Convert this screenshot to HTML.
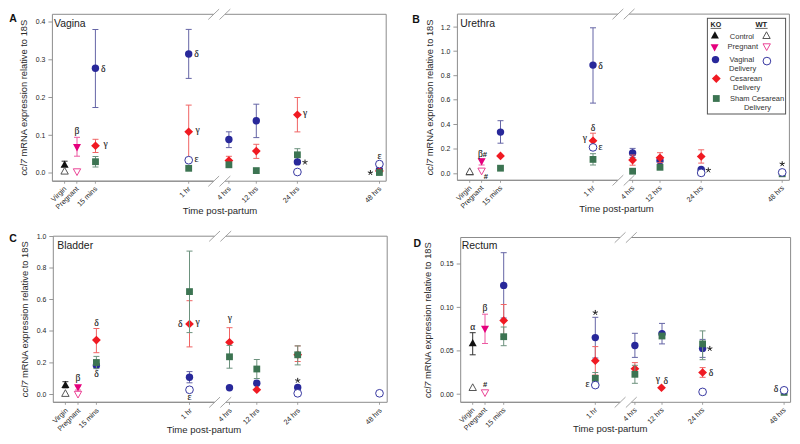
<!DOCTYPE html><html><head><meta charset="utf-8"><style>html,body{margin:0;padding:0;background:#fff;width:800px;height:444px;overflow:hidden}svg{display:block}</style></head><body>
<svg width="800" height="444" viewBox="0 0 800 444" font-family="Liberation Sans, sans-serif">
<rect width="800" height="444" fill="#fff"/>
<path d="M52.4 14.3H213.7M224.9 14.3H386.2V181.2H224.9M213.7 181.2H52.4Z" stroke="#8c8c8c" stroke-width="1" fill="none"/>
<path d="M52.4 14.3V181.2" stroke="#8c8c8c" stroke-width="1"/>
<path d="M208.3 19.5L219.1 9.1" stroke="#9a9a9a" stroke-width="0.9"/>
<path d="M219.5 19.5L230.3 9.1" stroke="#9a9a9a" stroke-width="0.9"/>
<path d="M208.3 186.4L219.1 176" stroke="#9a9a9a" stroke-width="0.9"/>
<path d="M219.5 186.4L230.3 176" stroke="#9a9a9a" stroke-width="0.9"/>
<path d="M48.4 22H52.4" stroke="#8c8c8c" stroke-width="0.9"/>
<text x="45.4" y="24.45" font-size="6.9" fill="#262626" text-anchor="end">0.4</text>
<path d="M48.4 59.8H52.4" stroke="#8c8c8c" stroke-width="0.9"/>
<text x="45.4" y="62.25" font-size="6.9" fill="#262626" text-anchor="end">0.3</text>
<path d="M48.4 97.5H52.4" stroke="#8c8c8c" stroke-width="0.9"/>
<text x="45.4" y="99.95" font-size="6.9" fill="#262626" text-anchor="end">0.2</text>
<path d="M48.4 135.3H52.4" stroke="#8c8c8c" stroke-width="0.9"/>
<text x="45.4" y="137.75" font-size="6.9" fill="#262626" text-anchor="end">0.1</text>
<path d="M48.4 173H52.4" stroke="#8c8c8c" stroke-width="0.9"/>
<text x="45.4" y="175.45" font-size="6.9" fill="#262626" text-anchor="end">0.0</text>
<path d="M64.6 181.2V183.7" stroke="#8c8c8c" stroke-width="0.8"/>
<text x="66.9" y="189.3" font-size="7.15" fill="#262626" text-anchor="end" transform="rotate(-45 66.9 189.3)">Virgin</text>
<path d="M76.8 181.2V183.7" stroke="#8c8c8c" stroke-width="0.8"/>
<text x="79.1" y="189.3" font-size="7.15" fill="#262626" text-anchor="end" transform="rotate(-45 79.1 189.3)">Pregnant</text>
<path d="M95.4 181.2V183.7" stroke="#8c8c8c" stroke-width="0.8"/>
<text x="97.7" y="189.3" font-size="7.15" fill="#262626" text-anchor="end" transform="rotate(-45 97.7 189.3)">15 mins</text>
<path d="M188.7 181.2V183.7" stroke="#8c8c8c" stroke-width="0.8"/>
<text x="191" y="189.3" font-size="7.15" fill="#262626" text-anchor="end" transform="rotate(-45 191 189.3)">1 hr</text>
<path d="M228.9 181.2V183.7" stroke="#8c8c8c" stroke-width="0.8"/>
<text x="231.2" y="189.3" font-size="7.15" fill="#262626" text-anchor="end" transform="rotate(-45 231.2 189.3)">4 hrs</text>
<path d="M256.3 181.2V183.7" stroke="#8c8c8c" stroke-width="0.8"/>
<text x="258.6" y="189.3" font-size="7.15" fill="#262626" text-anchor="end" transform="rotate(-45 258.6 189.3)">12 hrs</text>
<path d="M297.4 181.2V183.7" stroke="#8c8c8c" stroke-width="0.8"/>
<text x="299.7" y="189.3" font-size="7.15" fill="#262626" text-anchor="end" transform="rotate(-45 299.7 189.3)">24 hrs</text>
<path d="M379.5 181.2V183.7" stroke="#8c8c8c" stroke-width="0.8"/>
<text x="381.8" y="189.3" font-size="7.15" fill="#262626" text-anchor="end" transform="rotate(-45 381.8 189.3)">48 hrs</text>
<text x="9.3" y="21.9" font-size="10.5" font-weight="bold" fill="#111">A</text>
<text x="54" y="27.3" font-size="10.4" fill="#222">Vagina</text>
<text x="27.3" y="97.7" font-size="9.32" fill="#2a2a2a" text-anchor="middle" transform="rotate(-90 27.3 97.7)"><tspan font-style="italic">ccl7</tspan> mRNA expression relative to 18S</text>
<text x="220" y="213.8" font-size="9.55" fill="#2a2a2a" text-anchor="middle">Time post-partum</text>
<path d="M64.6 161.2V166.5M61.6 161.2H67.6M61.6 166.5H67.6" stroke="#333333" stroke-width="1" fill="none"/>
<path d="M64.6 160.4L68.6 167.7L60.6 167.7Z" fill="#111111"/>
<path d="M77 137.3V156.2M74 137.3H80M74 156.2H80" stroke="#ec5aa2" stroke-width="1" fill="none"/>
<path d="M73 144.1L81 144.1L77 151.4Z" fill="#e5007d"/>
<text x="77" y="134.1" font-family="Liberation Serif, serif" font-size="9.6" fill="#222" stroke="#222" stroke-width="0.12" text-anchor="middle">β</text>
<path d="M95.4 29.5V107.5M92.4 29.5H98.4M92.4 107.5H98.4" stroke="#6565a6" stroke-width="1" fill="none"/>
<circle cx="95.4" cy="68.2" r="3.7" fill="#28289a"/>
<text x="103.2" y="71.9" font-family="Liberation Serif, serif" font-size="9.6" fill="#222" stroke="#222" stroke-width="0.12" text-anchor="middle">δ</text>
<path d="M95.5 139.3V152.5M92.5 139.3H98.5M92.5 152.5H98.5" stroke="#f06464" stroke-width="1" fill="none"/>
<path d="M95.5 141.5L99.9 145.8L95.5 150.1L91.1 145.8Z" fill="#f01a22"/>
<text x="105.5" y="147.4" font-family="Liberation Serif, serif" font-size="9.6" fill="#222" stroke="#222" stroke-width="0.12" text-anchor="middle">γ</text>
<path d="M95.5 156.5V167M92.5 156.5H98.5M92.5 167H98.5" stroke="#6d927e" stroke-width="1" fill="none"/>
<rect x="92.1" y="158.3" width="6.8" height="6.8" fill="#3c7452"/>
<path d="M188.7 29.4V78.4M185.7 29.4H191.7M185.7 78.4H191.7" stroke="#6565a6" stroke-width="1" fill="none"/>
<circle cx="188.7" cy="54" r="3.7" fill="#28289a"/>
<text x="196.5" y="57.4" font-family="Liberation Serif, serif" font-size="9.6" fill="#222" stroke="#222" stroke-width="0.12" text-anchor="middle">δ</text>
<path d="M188.7 105.1V158.5M185.7 105.1H191.7M185.7 158.5H191.7" stroke="#f06464" stroke-width="1" fill="none"/>
<path d="M188.7 127.5L193.1 131.8L188.7 136.1L184.3 131.8Z" fill="#f01a22"/>
<text x="197.5" y="133.4" font-family="Liberation Serif, serif" font-size="9.6" fill="#222" stroke="#222" stroke-width="0.12" text-anchor="middle">γ</text>
<rect x="185.3" y="164.9" width="6.8" height="6.8" fill="#3c7452"/>
<path d="M228.9 131.8V147.6M225.9 131.8H231.9M225.9 147.6H231.9" stroke="#6565a6" stroke-width="1" fill="none"/>
<circle cx="228.9" cy="139.5" r="3.7" fill="#28289a"/>
<path d="M228.9 156.3V164.7M225.9 156.3H231.9M225.9 164.7H231.9" stroke="#f06464" stroke-width="1" fill="none"/>
<path d="M228.9 156.2L233.3 160.5L228.9 164.8L224.5 160.5Z" fill="#f01a22"/>
<rect x="225.5" y="161.4" width="6.8" height="6.8" fill="#3c7452"/>
<path d="M256.3 104.2V137.6M253.3 104.2H259.3M253.3 137.6H259.3" stroke="#6565a6" stroke-width="1" fill="none"/>
<circle cx="256.3" cy="120.8" r="3.7" fill="#28289a"/>
<path d="M256.3 144.3V158.4M253.3 144.3H259.3M253.3 158.4H259.3" stroke="#f06464" stroke-width="1" fill="none"/>
<path d="M256.3 146.8L260.7 151.1L256.3 155.4L251.9 151.1Z" fill="#f01a22"/>
<rect x="252.9" y="167.2" width="6.8" height="6.8" fill="#3c7452"/>
<path d="M297.4 97.5V131.9M294.4 97.5H300.4M294.4 131.9H300.4" stroke="#f06464" stroke-width="1" fill="none"/>
<path d="M297.4 110.4L301.8 114.7L297.4 119L293 114.7Z" fill="#f01a22"/>
<text x="305" y="116.4" font-family="Liberation Serif, serif" font-size="9.6" fill="#222" stroke="#222" stroke-width="0.12" text-anchor="middle">γ</text>
<path d="M297.4 148.7V161M294.4 148.7H300.4M294.4 161H300.4" stroke="#6d927e" stroke-width="1" fill="none"/>
<rect x="294" y="151.4" width="6.8" height="6.8" fill="#3c7452"/>
<circle cx="297.4" cy="161.9" r="3.7" fill="#28289a"/>
<path d="M305 162.25L305 159.55M305 162.25L307.57 161.42M305 162.25L306.59 164.43M305 162.25L303.41 164.43M305 162.25L302.43 161.42" stroke="#1e1e1e" stroke-width="1.0" fill="none"/>
<circle cx="379.4" cy="170" r="3.7" fill="#28289a"/>
<path d="M379.4 166.7L383.8 171L379.4 175.3L375 171Z" fill="#f01a22"/>
<rect x="376" y="169.1" width="6.8" height="6.8" fill="#3c7452"/>
<path d="M370.4 172.75L370.4 170.05M370.4 172.75L372.97 171.92M370.4 172.75L371.99 174.93M370.4 172.75L368.81 174.93M370.4 172.75L367.83 171.92" stroke="#1e1e1e" stroke-width="1.0" fill="none"/>
<path d="M64.6 167.4L68.3 174.1L60.9 174.1Z" fill="#fff" stroke="#444444" stroke-width="0.9"/>
<path d="M73.3 168.8L80.7 168.8L77 175.5Z" fill="#fff" stroke="#e8308a" stroke-width="0.9"/>
<circle cx="188.7" cy="160.2" r="3.85" fill="#fff" stroke="#2e2e9c" stroke-width="0.95"/>
<text x="196.5" y="162.3" font-family="Liberation Serif, serif" font-size="9.6" fill="#222" stroke="#222" stroke-width="0.12" text-anchor="middle">ε</text>
<circle cx="297.4" cy="172" r="3.85" fill="#fff" stroke="#2e2e9c" stroke-width="0.95"/>
<circle cx="379.4" cy="164.1" r="3.85" fill="#fff" stroke="#2e2e9c" stroke-width="0.95"/>
<text x="379.4" y="158.6" font-family="Liberation Serif, serif" font-size="9.6" fill="#222" stroke="#222" stroke-width="0.12" text-anchor="middle">ε</text>
<path d="M457.4 14.1H617.9M629.1 14.1H789.4V180.3H629.1M617.9 180.3H457.4Z" stroke="#8c8c8c" stroke-width="1" fill="none"/>
<path d="M457.4 14.1V180.3" stroke="#8c8c8c" stroke-width="1"/>
<path d="M612.5 19.3L623.3 8.9" stroke="#9a9a9a" stroke-width="0.9"/>
<path d="M623.7 19.3L634.5 8.9" stroke="#9a9a9a" stroke-width="0.9"/>
<path d="M612.5 185.5L623.3 175.1" stroke="#9a9a9a" stroke-width="0.9"/>
<path d="M623.7 185.5L634.5 175.1" stroke="#9a9a9a" stroke-width="0.9"/>
<path d="M453.4 27.1H457.4" stroke="#8c8c8c" stroke-width="0.9"/>
<text x="450.4" y="29.55" font-size="6.9" fill="#262626" text-anchor="end">1.2</text>
<path d="M453.4 51.2H457.4" stroke="#8c8c8c" stroke-width="0.9"/>
<text x="450.4" y="53.65" font-size="6.9" fill="#262626" text-anchor="end">1.0</text>
<path d="M453.4 75.7H457.4" stroke="#8c8c8c" stroke-width="0.9"/>
<text x="450.4" y="78.15" font-size="6.9" fill="#262626" text-anchor="end">0.8</text>
<path d="M453.4 99.8H457.4" stroke="#8c8c8c" stroke-width="0.9"/>
<text x="450.4" y="102.25" font-size="6.9" fill="#262626" text-anchor="end">0.6</text>
<path d="M453.4 124.5H457.4" stroke="#8c8c8c" stroke-width="0.9"/>
<text x="450.4" y="126.95" font-size="6.9" fill="#262626" text-anchor="end">0.4</text>
<path d="M453.4 149H457.4" stroke="#8c8c8c" stroke-width="0.9"/>
<text x="450.4" y="151.45" font-size="6.9" fill="#262626" text-anchor="end">0.2</text>
<path d="M453.4 173.8H457.4" stroke="#8c8c8c" stroke-width="0.9"/>
<text x="450.4" y="176.25" font-size="6.9" fill="#262626" text-anchor="end">0.0</text>
<path d="M469.7 180.3V182.8" stroke="#8c8c8c" stroke-width="0.8"/>
<text x="472" y="188.4" font-size="7.15" fill="#262626" text-anchor="end" transform="rotate(-45 472 188.4)">Virgin</text>
<path d="M481.6 180.3V182.8" stroke="#8c8c8c" stroke-width="0.8"/>
<text x="483.9" y="188.4" font-size="7.15" fill="#262626" text-anchor="end" transform="rotate(-45 483.9 188.4)">Pregnant</text>
<path d="M500.5 180.3V182.8" stroke="#8c8c8c" stroke-width="0.8"/>
<text x="502.8" y="188.4" font-size="7.15" fill="#262626" text-anchor="end" transform="rotate(-45 502.8 188.4)">15 mins</text>
<path d="M593 180.3V182.8" stroke="#8c8c8c" stroke-width="0.8"/>
<text x="595.3" y="188.4" font-size="7.15" fill="#262626" text-anchor="end" transform="rotate(-45 595.3 188.4)">1 hr</text>
<path d="M632.6 180.3V182.8" stroke="#8c8c8c" stroke-width="0.8"/>
<text x="634.9" y="188.4" font-size="7.15" fill="#262626" text-anchor="end" transform="rotate(-45 634.9 188.4)">4 hrs</text>
<path d="M660 180.3V182.8" stroke="#8c8c8c" stroke-width="0.8"/>
<text x="662.3" y="188.4" font-size="7.15" fill="#262626" text-anchor="end" transform="rotate(-45 662.3 188.4)">12 hrs</text>
<path d="M701.2 180.3V182.8" stroke="#8c8c8c" stroke-width="0.8"/>
<text x="703.5" y="188.4" font-size="7.15" fill="#262626" text-anchor="end" transform="rotate(-45 703.5 188.4)">24 hrs</text>
<path d="M782.2 180.3V182.8" stroke="#8c8c8c" stroke-width="0.8"/>
<text x="784.5" y="188.4" font-size="7.15" fill="#262626" text-anchor="end" transform="rotate(-45 784.5 188.4)">48 hrs</text>
<text x="412.3" y="23.1" font-size="10.5" font-weight="bold" fill="#111">B</text>
<text x="460.3" y="27.1" font-size="10.4" fill="#222">Urethra</text>
<text x="432.8" y="97.4" font-size="9.32" fill="#2a2a2a" text-anchor="middle" transform="rotate(-90 432.8 97.4)"><tspan font-style="italic">ccl7</tspan> mRNA expression relative to 18S</text>
<text x="616.6" y="212.2" font-size="9.55" fill="#2a2a2a" text-anchor="middle">Time post-partum</text>
<path d="M469.7 168L473.7 175.3L465.7 175.3Z" fill="#111111"/>
<path d="M481.6 159V165M478.6 159H484.6M478.6 165H484.6" stroke="#ec5aa2" stroke-width="1" fill="none"/>
<path d="M477.6 158.3L485.6 158.3L481.6 165.6Z" fill="#e5007d"/>
<text x="482.5" y="156.5" font-family="Liberation Serif, serif" font-size="9.6" fill="#222" stroke="#222" stroke-width="0.12" text-anchor="middle">β<tspan font-family="Liberation Sans, sans-serif" font-size="7.6" font-weight="bold" stroke-width="0">#</tspan></text>
<path d="M500.5 120.7V143.2M497.5 120.7H503.5M497.5 143.2H503.5" stroke="#6565a6" stroke-width="1" fill="none"/>
<circle cx="500.5" cy="132.1" r="3.7" fill="#28289a"/>
<path d="M500.5 151.6L504.9 155.9L500.5 160.2L496.1 155.9Z" fill="#f01a22"/>
<rect x="497.1" y="164.8" width="6.8" height="6.8" fill="#3c7452"/>
<path d="M593 27.8V103.1M590 27.8H596M590 103.1H596" stroke="#6565a6" stroke-width="1" fill="none"/>
<circle cx="593" cy="65.1" r="3.7" fill="#28289a"/>
<text x="600.5" y="68.9" font-family="Liberation Serif, serif" font-size="9.6" fill="#222" stroke="#222" stroke-width="0.12" text-anchor="middle">δ</text>
<path d="M593 133.2V148M590 133.2H596M590 148H596" stroke="#f06464" stroke-width="1" fill="none"/>
<path d="M593 136.4L597.4 140.7L593 145L588.6 140.7Z" fill="#f01a22"/>
<text x="593" y="130.6" font-family="Liberation Serif, serif" font-size="9.6" fill="#222" stroke="#222" stroke-width="0.12" text-anchor="middle">δ</text>
<text x="584.8" y="141.4" font-family="Liberation Serif, serif" font-size="9.6" fill="#222" stroke="#222" stroke-width="0.12" text-anchor="middle">γ</text>
<path d="M593 153.7V165M590 153.7H596M590 165H596" stroke="#6d927e" stroke-width="1" fill="none"/>
<rect x="589.6" y="156" width="6.8" height="6.8" fill="#3c7452"/>
<path d="M632.6 148.4V157.6M629.6 148.4H635.6M629.6 157.6H635.6" stroke="#6565a6" stroke-width="1" fill="none"/>
<circle cx="632.6" cy="153" r="3.7" fill="#28289a"/>
<path d="M632.6 155V165.2M629.6 155H635.6M629.6 165.2H635.6" stroke="#f06464" stroke-width="1" fill="none"/>
<path d="M632.6 155.8L637 160.1L632.6 164.4L628.2 160.1Z" fill="#f01a22"/>
<rect x="629.2" y="167.8" width="6.8" height="6.8" fill="#3c7452"/>
<circle cx="660" cy="160.8" r="3.7" fill="#28289a"/>
<path d="M660 152.7V162.7M657 152.7H663M657 162.7H663" stroke="#f06464" stroke-width="1" fill="none"/>
<path d="M660 153.4L664.4 157.7L660 162L655.6 157.7Z" fill="#f01a22"/>
<rect x="656.6" y="163.9" width="6.8" height="6.8" fill="#3c7452"/>
<path d="M701.2 149.8V163.1M698.2 149.8H704.2M698.2 163.1H704.2" stroke="#f06464" stroke-width="1" fill="none"/>
<path d="M701.2 152.2L705.6 156.5L701.2 160.8L696.8 156.5Z" fill="#f01a22"/>
<rect x="697.8" y="168.6" width="6.8" height="6.8" fill="#3c7452"/>
<circle cx="701.2" cy="169.5" r="3.7" fill="#28289a"/>
<path d="M708.3 170.15L708.3 167.45M708.3 170.15L710.87 169.32M708.3 170.15L709.89 172.33M708.3 170.15L706.71 172.33M708.3 170.15L705.73 169.32" stroke="#1e1e1e" stroke-width="1.0" fill="none"/>
<rect x="778.8" y="170.4" width="6.8" height="6.8" fill="#3c7452"/>
<path d="M469.7 167.8L473.4 174.5L466 174.5Z" fill="#fff" stroke="#444444" stroke-width="0.9"/>
<path d="M477.9 168.1L485.3 168.1L481.6 174.8Z" fill="#fff" stroke="#e8308a" stroke-width="0.9"/>
<text x="485.9" y="178.7" font-family="Liberation Sans, sans-serif" font-size="7.6" font-weight="bold" fill="#222" text-anchor="middle">#</text>
<circle cx="593" cy="147.4" r="3.85" fill="#fff" stroke="#2e2e9c" stroke-width="0.95"/>
<text x="600.5" y="149.8" font-family="Liberation Serif, serif" font-size="9.6" fill="#222" stroke="#222" stroke-width="0.12" text-anchor="middle">ε</text>
<circle cx="701.2" cy="172.9" r="3.85" fill="#fff" stroke="#2e2e9c" stroke-width="0.95"/>
<circle cx="782.2" cy="172.4" r="3.85" fill="#fff" stroke="#2e2e9c" stroke-width="0.95"/>
<path d="M782.2 163.95L782.2 161.25M782.2 163.95L784.77 163.12M782.2 163.95L783.79 166.13M782.2 163.95L780.61 166.13M782.2 163.95L779.63 163.12" stroke="#1e1e1e" stroke-width="1.0" fill="none"/>
<path d="M53.3 236.2H214.6M225.8 236.2H387.2V402.3H225.8M214.6 402.3H53.3Z" stroke="#8c8c8c" stroke-width="1" fill="none"/>
<path d="M53.3 236.2V402.3" stroke="#8c8c8c" stroke-width="1"/>
<path d="M209.2 241.4L220 231" stroke="#9a9a9a" stroke-width="0.9"/>
<path d="M220.4 241.4L231.2 231" stroke="#9a9a9a" stroke-width="0.9"/>
<path d="M209.2 407.5L220 397.1" stroke="#9a9a9a" stroke-width="0.9"/>
<path d="M220.4 407.5L231.2 397.1" stroke="#9a9a9a" stroke-width="0.9"/>
<path d="M49.3 236.5H53.3" stroke="#8c8c8c" stroke-width="0.9"/>
<text x="46.3" y="238.95" font-size="6.9" fill="#262626" text-anchor="end">1.0</text>
<path d="M49.3 268H53.3" stroke="#8c8c8c" stroke-width="0.9"/>
<text x="46.3" y="270.45" font-size="6.9" fill="#262626" text-anchor="end">0.8</text>
<path d="M49.3 299.5H53.3" stroke="#8c8c8c" stroke-width="0.9"/>
<text x="46.3" y="301.95" font-size="6.9" fill="#262626" text-anchor="end">0.6</text>
<path d="M49.3 331H53.3" stroke="#8c8c8c" stroke-width="0.9"/>
<text x="46.3" y="333.45" font-size="6.9" fill="#262626" text-anchor="end">0.4</text>
<path d="M49.3 362.9H53.3" stroke="#8c8c8c" stroke-width="0.9"/>
<text x="46.3" y="365.35" font-size="6.9" fill="#262626" text-anchor="end">0.2</text>
<path d="M49.3 394.5H53.3" stroke="#8c8c8c" stroke-width="0.9"/>
<text x="46.3" y="396.95" font-size="6.9" fill="#262626" text-anchor="end">0.0</text>
<path d="M65.4 402.3V404.8" stroke="#8c8c8c" stroke-width="0.8"/>
<text x="68.3" y="411" font-size="7.15" fill="#262626" text-anchor="end" transform="rotate(-45 68.3 411)">Virgin</text>
<path d="M78 402.3V404.8" stroke="#8c8c8c" stroke-width="0.8"/>
<text x="80.9" y="411" font-size="7.15" fill="#262626" text-anchor="end" transform="rotate(-45 80.9 411)">Pregnant</text>
<path d="M96.4 402.3V404.8" stroke="#8c8c8c" stroke-width="0.8"/>
<text x="99.3" y="411" font-size="7.15" fill="#262626" text-anchor="end" transform="rotate(-45 99.3 411)">15 mins</text>
<path d="M189.5 402.3V404.8" stroke="#8c8c8c" stroke-width="0.8"/>
<text x="192.4" y="411" font-size="7.15" fill="#262626" text-anchor="end" transform="rotate(-45 192.4 411)">1 hr</text>
<path d="M229.5 402.3V404.8" stroke="#8c8c8c" stroke-width="0.8"/>
<text x="232.4" y="411" font-size="7.15" fill="#262626" text-anchor="end" transform="rotate(-45 232.4 411)">4 hrs</text>
<path d="M256.8 402.3V404.8" stroke="#8c8c8c" stroke-width="0.8"/>
<text x="259.7" y="411" font-size="7.15" fill="#262626" text-anchor="end" transform="rotate(-45 259.7 411)">12 hrs</text>
<path d="M297.7 402.3V404.8" stroke="#8c8c8c" stroke-width="0.8"/>
<text x="300.6" y="411" font-size="7.15" fill="#262626" text-anchor="end" transform="rotate(-45 300.6 411)">24 hrs</text>
<path d="M379.5 402.3V404.8" stroke="#8c8c8c" stroke-width="0.8"/>
<text x="382.4" y="411" font-size="7.15" fill="#262626" text-anchor="end" transform="rotate(-45 382.4 411)">48 hrs</text>
<text x="9.3" y="241.6" font-size="10.5" font-weight="bold" fill="#111">C</text>
<text x="57.3" y="249" font-size="10.4" fill="#222">Bladder</text>
<text x="27.9" y="319.3" font-size="9.32" fill="#2a2a2a" text-anchor="middle" transform="rotate(-90 27.9 319.3)"><tspan font-style="italic">ccl7</tspan> mRNA expression relative to 18S</text>
<text x="204" y="432.6" font-size="9.55" fill="#2a2a2a" text-anchor="middle">Time post-partum</text>
<path d="M65.4 381.7V387.9M62.4 381.7H68.4M62.4 387.9H68.4" stroke="#333333" stroke-width="1" fill="none"/>
<path d="M65.4 380.8L69.4 388.1L61.4 388.1Z" fill="#111111"/>
<path d="M78 386V390M75 386H81M75 390H81" stroke="#ec5aa2" stroke-width="1" fill="none"/>
<path d="M74 384.3L82 384.3L78 391.6Z" fill="#e5007d"/>
<text x="78" y="381.3" font-family="Liberation Serif, serif" font-size="9.6" fill="#222" stroke="#222" stroke-width="0.12" text-anchor="middle">β</text>
<circle cx="96.4" cy="365.5" r="3.7" fill="#28289a"/>
<path d="M96.4 328.5V352.7M93.4 328.5H99.4M93.4 352.7H99.4" stroke="#f06464" stroke-width="1" fill="none"/>
<path d="M96.4 335.8L100.8 340.1L96.4 344.4L92 340.1Z" fill="#f01a22"/>
<text x="96.5" y="325.6" font-family="Liberation Serif, serif" font-size="9.6" fill="#222" stroke="#222" stroke-width="0.12" text-anchor="middle">δ</text>
<path d="M96.4 356.4V368.6M93.4 356.4H99.4M93.4 368.6H99.4" stroke="#6d927e" stroke-width="1" fill="none"/>
<rect x="93" y="359.1" width="6.8" height="6.8" fill="#3c7452"/>
<text x="96.5" y="377" font-family="Liberation Serif, serif" font-size="9.6" fill="#222" stroke="#222" stroke-width="0.12" text-anchor="middle">δ</text>
<path d="M189.5 371.6V382.8M186.5 371.6H192.5M186.5 382.8H192.5" stroke="#6565a6" stroke-width="1" fill="none"/>
<circle cx="189.5" cy="377.3" r="3.7" fill="#28289a"/>
<path d="M189.5 300.7V346.9M186.5 300.7H192.5M186.5 346.9H192.5" stroke="#f06464" stroke-width="1" fill="none"/>
<path d="M189.5 319.7L193.9 324L189.5 328.3L185.1 324Z" fill="#f01a22"/>
<text x="180.2" y="326.9" font-family="Liberation Serif, serif" font-size="9.6" fill="#222" stroke="#222" stroke-width="0.12" text-anchor="middle">δ</text>
<text x="197.5" y="324.9" font-family="Liberation Serif, serif" font-size="9.6" fill="#222" stroke="#222" stroke-width="0.12" text-anchor="middle">γ</text>
<path d="M189.5 251.1V332.6M186.5 251.1H192.5M186.5 332.6H192.5" stroke="#6d927e" stroke-width="1" fill="none"/>
<rect x="186.1" y="288.2" width="6.8" height="6.8" fill="#3c7452"/>
<circle cx="229.5" cy="387.8" r="3.7" fill="#28289a"/>
<path d="M229.5 327.7V357M226.5 327.7H232.5M226.5 357H232.5" stroke="#f06464" stroke-width="1" fill="none"/>
<path d="M229.5 338L233.9 342.3L229.5 346.6L225.1 342.3Z" fill="#f01a22"/>
<text x="229.8" y="320.8" font-family="Liberation Serif, serif" font-size="9.6" fill="#222" stroke="#222" stroke-width="0.12" text-anchor="middle">γ</text>
<path d="M229.5 345.4V368.2M226.5 345.4H232.5M226.5 368.2H232.5" stroke="#6d927e" stroke-width="1" fill="none"/>
<rect x="226.1" y="353.4" width="6.8" height="6.8" fill="#3c7452"/>
<circle cx="256.8" cy="383.2" r="3.7" fill="#28289a"/>
<path d="M256.8 385.5L261.2 389.8L256.8 394.1L252.4 389.8Z" fill="#f01a22"/>
<path d="M256.8 359.5V378.5M253.8 359.5H259.8M253.8 378.5H259.8" stroke="#6d927e" stroke-width="1" fill="none"/>
<rect x="253.4" y="365.6" width="6.8" height="6.8" fill="#3c7452"/>
<path d="M297.7 345.9V361.5M294.7 345.9H300.7M294.7 361.5H300.7" stroke="#f06464" stroke-width="1" fill="none"/>
<path d="M297.7 350.5L302.1 354.8L297.7 359.1L293.3 354.8Z" fill="#f01a22"/>
<path d="M297.7 345.9V364.9M294.7 345.9H300.7M294.7 364.9H300.7" stroke="#6d927e" stroke-width="1" fill="none"/>
<rect x="294.3" y="351.4" width="6.8" height="6.8" fill="#3c7452"/>
<circle cx="297.7" cy="387.4" r="3.7" fill="#28289a"/>
<path d="M297.7 380.55L297.7 377.85M297.7 380.55L300.27 379.72M297.7 380.55L299.29 382.73M297.7 380.55L296.11 382.73M297.7 380.55L295.13 379.72" stroke="#1e1e1e" stroke-width="1.0" fill="none"/>
<path d="M65.4 389.7L69.1 396.4L61.7 396.4Z" fill="#fff" stroke="#444444" stroke-width="0.9"/>
<path d="M74.3 391.3L81.7 391.3L78 398Z" fill="#fff" stroke="#e8308a" stroke-width="0.9"/>
<circle cx="189.5" cy="389.8" r="3.85" fill="#fff" stroke="#2e2e9c" stroke-width="0.95"/>
<text x="189.5" y="400.3" font-family="Liberation Serif, serif" font-size="9.6" fill="#222" stroke="#222" stroke-width="0.12" text-anchor="middle">ε</text>
<circle cx="297.7" cy="393.3" r="3.85" fill="#fff" stroke="#2e2e9c" stroke-width="0.95"/>
<circle cx="379.5" cy="393.3" r="3.85" fill="#fff" stroke="#2e2e9c" stroke-width="0.95"/>
<path d="M460.7 237.5H620.1M631.3 237.5H790.6V402.3H631.3M620.1 402.3H460.7Z" stroke="#8c8c8c" stroke-width="1" fill="none"/>
<path d="M460.7 237.5V402.3" stroke="#8c8c8c" stroke-width="1"/>
<path d="M614.7 242.7L625.5 232.3" stroke="#9a9a9a" stroke-width="0.9"/>
<path d="M625.9 242.7L636.7 232.3" stroke="#9a9a9a" stroke-width="0.9"/>
<path d="M614.7 407.5L625.5 397.1" stroke="#9a9a9a" stroke-width="0.9"/>
<path d="M625.9 407.5L636.7 397.1" stroke="#9a9a9a" stroke-width="0.9"/>
<path d="M456.7 264H460.7" stroke="#8c8c8c" stroke-width="0.9"/>
<text x="453.7" y="266.45" font-size="6.9" fill="#262626" text-anchor="end">0.15</text>
<path d="M456.7 307.4H460.7" stroke="#8c8c8c" stroke-width="0.9"/>
<text x="453.7" y="309.85" font-size="6.9" fill="#262626" text-anchor="end">0.10</text>
<path d="M456.7 350.9H460.7" stroke="#8c8c8c" stroke-width="0.9"/>
<text x="453.7" y="353.35" font-size="6.9" fill="#262626" text-anchor="end">0.05</text>
<path d="M456.7 394.2H460.7" stroke="#8c8c8c" stroke-width="0.9"/>
<text x="453.7" y="396.65" font-size="6.9" fill="#262626" text-anchor="end">0.00</text>
<path d="M472.7 402.3V404.8" stroke="#8c8c8c" stroke-width="0.8"/>
<text x="475" y="410.4" font-size="7.15" fill="#262626" text-anchor="end" transform="rotate(-45 475 410.4)">Virgin</text>
<path d="M485 402.3V404.8" stroke="#8c8c8c" stroke-width="0.8"/>
<text x="487.3" y="410.4" font-size="7.15" fill="#262626" text-anchor="end" transform="rotate(-45 487.3 410.4)">Pregnant</text>
<path d="M503.7 402.3V404.8" stroke="#8c8c8c" stroke-width="0.8"/>
<text x="506" y="410.4" font-size="7.15" fill="#262626" text-anchor="end" transform="rotate(-45 506 410.4)">15 mins</text>
<path d="M595.3 402.3V404.8" stroke="#8c8c8c" stroke-width="0.8"/>
<text x="597.6" y="410.4" font-size="7.15" fill="#262626" text-anchor="end" transform="rotate(-45 597.6 410.4)">1 hr</text>
<path d="M634.9 402.3V404.8" stroke="#8c8c8c" stroke-width="0.8"/>
<text x="637.2" y="410.4" font-size="7.15" fill="#262626" text-anchor="end" transform="rotate(-45 637.2 410.4)">4 hrs</text>
<path d="M662 402.3V404.8" stroke="#8c8c8c" stroke-width="0.8"/>
<text x="664.3" y="410.4" font-size="7.15" fill="#262626" text-anchor="end" transform="rotate(-45 664.3 410.4)">12 hrs</text>
<path d="M702.6 402.3V404.8" stroke="#8c8c8c" stroke-width="0.8"/>
<text x="704.9" y="410.4" font-size="7.15" fill="#262626" text-anchor="end" transform="rotate(-45 704.9 410.4)">24 hrs</text>
<path d="M784.1 402.3V404.8" stroke="#8c8c8c" stroke-width="0.8"/>
<text x="786.4" y="410.4" font-size="7.15" fill="#262626" text-anchor="end" transform="rotate(-45 786.4 410.4)">48 hrs</text>
<text x="413.6" y="247.1" font-size="10.5" font-weight="bold" fill="#111">D</text>
<text x="461.7" y="249" font-size="10.4" fill="#222">Rectum</text>
<text x="431.4" y="320.2" font-size="9.32" fill="#2a2a2a" text-anchor="middle" transform="rotate(-90 431.4 320.2)"><tspan font-style="italic">ccl7</tspan> mRNA expression relative to 18S</text>
<text x="610.2" y="432.3" font-size="9.55" fill="#2a2a2a" text-anchor="middle">Time post-partum</text>
<path d="M472.7 332.7V354.8M469.7 332.7H475.7M469.7 354.8H475.7" stroke="#333333" stroke-width="1" fill="none"/>
<path d="M472.7 339L476.7 346.3L468.7 346.3Z" fill="#111111"/>
<text x="472.7" y="329.9" font-family="Liberation Serif, serif" font-size="9.6" fill="#222" stroke="#222" stroke-width="0.12" text-anchor="middle">α</text>
<path d="M485 314.2V343.5M482 314.2H488M482 343.5H488" stroke="#ec5aa2" stroke-width="1" fill="none"/>
<path d="M481 325.8L489 325.8L485 333.1Z" fill="#e5007d"/>
<text x="485" y="310.7" font-family="Liberation Serif, serif" font-size="9.6" fill="#222" stroke="#222" stroke-width="0.12" text-anchor="middle">β</text>
<path d="M503.7 252.7V318M500.7 252.7H506.7M500.7 318H506.7" stroke="#6565a6" stroke-width="1" fill="none"/>
<circle cx="503.7" cy="285.4" r="3.7" fill="#28289a"/>
<path d="M503.7 304.5V336.5M500.7 304.5H506.7M500.7 336.5H506.7" stroke="#f06464" stroke-width="1" fill="none"/>
<path d="M503.7 316.2L508.1 320.5L503.7 324.8L499.3 320.5Z" fill="#f01a22"/>
<path d="M503.7 327V345.7M500.7 327H506.7M500.7 345.7H506.7" stroke="#6d927e" stroke-width="1" fill="none"/>
<rect x="500.3" y="333.3" width="6.8" height="6.8" fill="#3c7452"/>
<path d="M595.3 317.3V358M592.3 317.3H598.3M592.3 358H598.3" stroke="#6565a6" stroke-width="1" fill="none"/>
<circle cx="595.3" cy="337.6" r="3.7" fill="#28289a"/>
<path d="M595.3 312.65L595.3 309.95M595.3 312.65L597.87 311.82M595.3 312.65L596.89 314.83M595.3 312.65L593.71 314.83M595.3 312.65L592.73 311.82" stroke="#1e1e1e" stroke-width="1.0" fill="none"/>
<path d="M595.3 346.6V375M592.3 346.6H598.3M592.3 375H598.3" stroke="#f06464" stroke-width="1" fill="none"/>
<path d="M595.3 356.5L599.7 360.8L595.3 365.1L590.9 360.8Z" fill="#f01a22"/>
<path d="M595.3 372.5V384M592.3 372.5H598.3M592.3 384H598.3" stroke="#6d927e" stroke-width="1" fill="none"/>
<rect x="591.9" y="375" width="6.8" height="6.8" fill="#3c7452"/>
<path d="M634.9 333.3V357.4M631.9 333.3H637.9M631.9 357.4H637.9" stroke="#6565a6" stroke-width="1" fill="none"/>
<circle cx="634.9" cy="345.5" r="3.7" fill="#28289a"/>
<path d="M634.9 362.6V374.8M631.9 362.6H637.9M631.9 374.8H637.9" stroke="#f06464" stroke-width="1" fill="none"/>
<path d="M634.9 364.4L639.3 368.7L634.9 373L630.5 368.7Z" fill="#f01a22"/>
<path d="M634.9 365.3V383.3M631.9 365.3H637.9M631.9 383.3H637.9" stroke="#6d927e" stroke-width="1" fill="none"/>
<rect x="631.5" y="370.9" width="6.8" height="6.8" fill="#3c7452"/>
<path d="M662 323.4V343.9M659 323.4H665M659 343.9H665" stroke="#6565a6" stroke-width="1" fill="none"/>
<circle cx="662" cy="333.8" r="3.7" fill="#28289a"/>
<path d="M661.5 383.5L665.9 387.8L661.5 392.1L657.1 387.8Z" fill="#f01a22"/>
<text x="657.8" y="382.4" font-family="Liberation Serif, serif" font-size="9.6" fill="#222" stroke="#222" stroke-width="0.12" text-anchor="middle">γ</text>
<text x="665.7" y="384.4" font-family="Liberation Serif, serif" font-size="9.6" fill="#222" stroke="#222" stroke-width="0.12" text-anchor="middle">δ</text>
<rect x="658.6" y="332.6" width="6.8" height="6.8" fill="#3c7452"/>
<path d="M702.6 339.4V357.4M699.6 339.4H705.6M699.6 357.4H705.6" stroke="#6565a6" stroke-width="1" fill="none"/>
<circle cx="702.6" cy="348.4" r="3.7" fill="#28289a"/>
<path d="M709.8 348.65L709.8 345.95M709.8 348.65L712.37 347.82M709.8 348.65L711.39 350.83M709.8 348.65L708.21 350.83M709.8 348.65L707.23 347.82" stroke="#1e1e1e" stroke-width="1.0" fill="none"/>
<path d="M702.6 367.6V377.3M699.6 367.6H705.6M699.6 377.3H705.6" stroke="#f06464" stroke-width="1" fill="none"/>
<path d="M702.6 368.2L707 372.5L702.6 376.8L698.2 372.5Z" fill="#f01a22"/>
<text x="711" y="375.9" font-family="Liberation Serif, serif" font-size="9.6" fill="#222" stroke="#222" stroke-width="0.12" text-anchor="middle">δ</text>
<path d="M702.6 330.9V359.7M699.6 330.9H705.6M699.6 359.7H705.6" stroke="#6d927e" stroke-width="1" fill="none"/>
<rect x="699.2" y="340.5" width="6.8" height="6.8" fill="#3c7452"/>
<rect x="780.7" y="389" width="6.8" height="6.8" fill="#3c7452"/>
<path d="M472.7 383.8L476.4 390.5L469 390.5Z" fill="#fff" stroke="#444444" stroke-width="0.9"/>
<path d="M481.3 389.8L488.7 389.8L485 396.5Z" fill="#fff" stroke="#e8308a" stroke-width="0.9"/>
<text x="485" y="386.7" font-family="Liberation Sans, sans-serif" font-size="7.6" font-weight="bold" fill="#222" text-anchor="middle">#</text>
<circle cx="595.3" cy="385.1" r="3.85" fill="#fff" stroke="#2e2e9c" stroke-width="0.95"/>
<text x="587.6" y="387.3" font-family="Liberation Serif, serif" font-size="9.6" fill="#222" stroke="#222" stroke-width="0.12" text-anchor="middle">ε</text>
<circle cx="702.6" cy="391.9" r="3.85" fill="#fff" stroke="#2e2e9c" stroke-width="0.95"/>
<circle cx="784.1" cy="390.3" r="3.85" fill="#fff" stroke="#2e2e9c" stroke-width="0.95"/>
<text x="776" y="391.7" font-family="Liberation Serif, serif" font-size="9.6" fill="#222" stroke="#222" stroke-width="0.12" text-anchor="middle">δ</text>
<rect x="707.4" y="18.3" width="78.2" height="95.7" fill="#fff" stroke="#555" stroke-width="1"/>
<text x="710.6" y="26.9" font-size="7" font-weight="bold" fill="#222">KO</text>
<path d="M710.6 28.4H721.2" stroke="#222" stroke-width="0.7"/>
<text x="755.4" y="26.9" font-size="7.6" font-weight="bold" fill="#222">WT</text>
<path d="M755.4 28.4H767.6" stroke="#222" stroke-width="0.7"/>
<text x="729.8" y="38.6" font-size="7.5" fill="#333">Control</text>
<text x="727.6" y="49.4" font-size="7.5" fill="#333">Pregnant</text>
<text x="729.6" y="61.8" font-size="7.5" fill="#333">Vaginal</text>
<text x="729.1" y="70.5" font-size="7.5" fill="#333">Delivery</text>
<text x="729.7" y="81.4" font-size="7.5" fill="#333">Cesarean</text>
<text x="733.1" y="89.5" font-size="7.5" fill="#333">Delivery</text>
<text x="730" y="100.9" font-size="7.5" fill="#333">Sham  Cesarean</text>
<text x="743.9" y="109.7" font-size="7.5" fill="#333">Delivery</text>
<path d="M714.9 31.2L718.9 38.5L710.9 38.5Z" fill="#111111"/>
<path d="M710.6 44.3L718.6 44.3L714.6 51.6Z" fill="#e5007d"/>
<circle cx="715.5" cy="59.6" r="3.7" fill="#28289a"/>
<path d="M716.3 74.3L720.7 78.6L716.3 82.9L711.9 78.6Z" fill="#f01a22"/>
<rect x="712.9" y="95.1" width="6.8" height="6.8" fill="#3c7452"/>
<path d="M766.5 31.8L770.2 38.5L762.8 38.5Z" fill="#fff" stroke="#444444" stroke-width="0.9"/>
<path d="M763 43.8L770.4 43.8L766.7 50.5Z" fill="#fff" stroke="#e8308a" stroke-width="0.9"/>
<circle cx="766.9" cy="61.1" r="3.85" fill="#fff" stroke="#2e2e9c" stroke-width="0.95"/>
</svg></body></html>
